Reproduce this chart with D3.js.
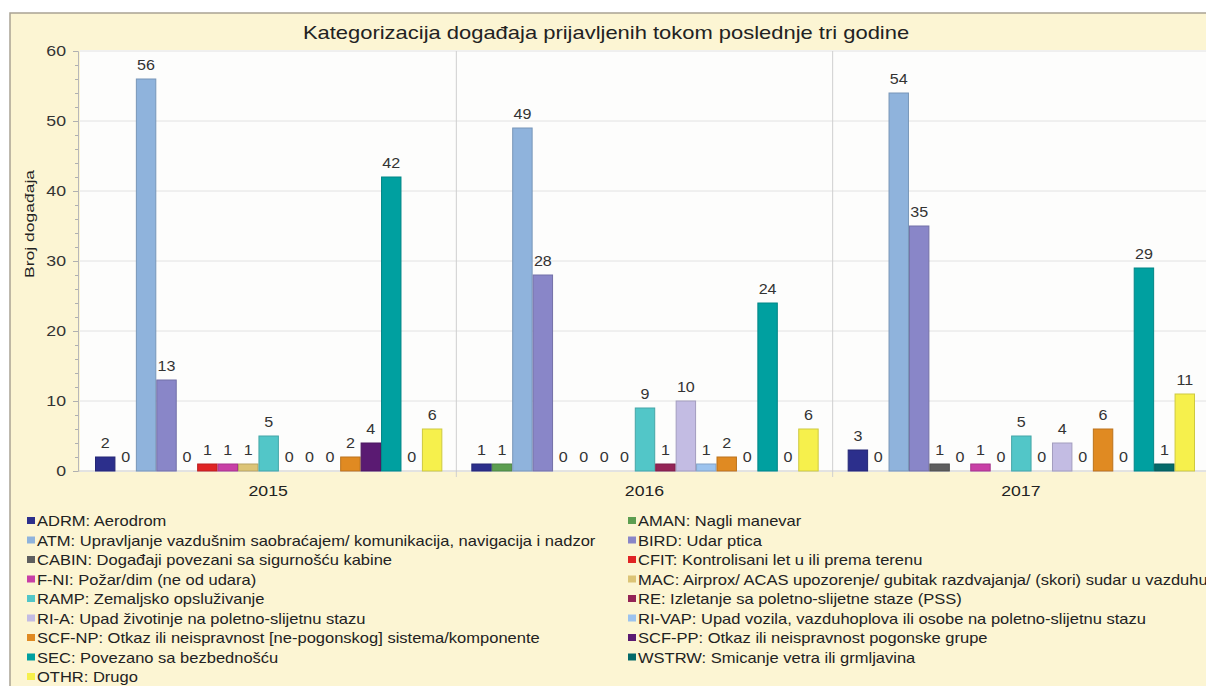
<!DOCTYPE html>
<html>
<head>
<meta charset="utf-8">
<script src="https://cdn.jsdelivr.net/npm/d3@7"></script>
<style>
  body { margin: 0; background: #fff; }
  svg { display: block; font-family: "Liberation Sans", Arial, sans-serif; }
</style>
</head>
<body>
<div id="chart"></div>
<script>
let years = ['2015', '2016', '2017']

let categories = ['ADRM', 'AMAN', 'ATM', 'BIRD', 'CABIN', 'CFIT', 'F-NI', 'MAC', 'RAMP',
  'RE', 'RI-A', 'RI-VAP', 'SCF-NP', 'SCF-PP', 'SEC', 'WSTRW', 'OTHR']

let descriptions = [
  'Aerodrom',
  'Nagli manevar',
  'Upravljanje vazdušnim saobraćajem/ komunikacija, navigacija i nadzor',
  'Udar ptica',
  'Događaji povezani sa sigurnošću kabine',
  'Kontrolisani let u ili prema terenu',
  'Požar/dim (ne od udara)',
  'Airprox/ ACAS upozorenje/ gubitak razdvajanja/ (skori) sudar u vazduhu',
  'Zemaljsko opsluživanje',
  'Izletanje sa poletno-slijetne staze (PSS)',
  'Upad životinje na poletno-slijetnu stazu',
  'Upad vozila, vazduhoplova ili osobe na poletno-slijetnu stazu',
  'Otkaz ili neispravnost [ne-pogonskog] sistema/komponente',
  'Otkaz ili neispravnost pogonske grupe',
  'Povezano sa bezbednošću',
  'Smicanje vetra ili grmljavina',
  'Drugo'
]

let values2015 = [2, 0, 56, 13, 0, 1, 1, 1, 5, 0, 0, 0, 2, 4, 42, 0, 6]
let values2016 = [1, 1, 49, 28, 0, 0, 0, 0, 9, 1, 10, 1, 2, 0, 24, 0, 6]
let values2017 = [3, 0, 54, 35, 1, 0, 1, 0, 5, 0, 4, 0, 6, 0, 29, 1, 11]

let colors = ['#2c2f8c', '#5c9e50', '#8fb3dc', '#8986c8', '#5e5e5e', '#e02424', '#c83fa6',
  '#dcc476', '#52c6c8', '#942456', '#c3bce3', '#9cc3ee', '#e08a22', '#5a1a72',
  '#00a0a0', '#046a6a', '#f6f04c']

let seriesByYear = { '2015': values2015, '2016': values2016, '2017': values2017 }

let width = 1206
let height = 686
let plot = { left: 80, right: 1209, top: 51, bottom: 471 }
// the source picture is a bit wider than tall, so text gets a horizontal stretch
let sx = 1.18

let svg = d3.select('#chart')
  .append('svg')
  .attr('width', width)
  .attr('height', height)

// frame
svg.append('rect')
  .attr('x', 10).attr('y', 13)
  .attr('width', width).attr('height', height)
  .attr('fill', '#fcf5d3')
  .attr('stroke', '#a9a394')
  .attr('stroke-width', 1.5)

svg.append('rect')
  .attr('x', plot.left).attr('y', plot.top - 1)
  .attr('width', plot.right - plot.left).attr('height', plot.bottom - plot.top + 2)
  .attr('fill', '#fdfdfc')

svg.append('text')
  .text('Kategorizacija događaja prijavljenih tokom poslednje tri godine')
  .attr('transform', `translate(606,39) scale(1.22,1)`)
  .attr('text-anchor', 'middle')
  .attr('font-size', 18)
  .attr('fill', '#222')

let y = d3.scaleLinear().domain([0, 60]).range([plot.bottom, plot.top])

let x0 = d3.scaleBand().domain(years).range([plot.left, plot.right]).padding(0)

let x1 = d3.scaleBand().domain(categories).range([15, x0.bandwidth() - 14]).padding(0)

let colorScale = d3.scaleOrdinal().domain(categories).range(colors)

// gridlines
svg.append('g')
  .selectAll('line')
  .data(d3.range(10, 61, 10))
  .enter()
  .append('line')
  .attr('x1', plot.left).attr('x2', plot.right)
  .attr('y1', d => y(d)).attr('y2', d => y(d))
  .attr('stroke', '#e2e2e2')

svg.append('g')
  .selectAll('line')
  .data(years.slice(1))
  .enter()
  .append('line')
  .attr('x1', d => x0(d)).attr('x2', d => x0(d))
  .attr('y1', plot.top).attr('y2', plot.bottom + 6)
  .attr('stroke', '#cfcfcf')

// baseline
svg.append('line')
  .attr('x1', plot.left - 2).attr('x2', plot.right)
  .attr('y1', plot.bottom).attr('y2', plot.bottom)
  .attr('stroke', '#c8c8c8')

// y axis
let minorAxis = d3.axisLeft(y).tickValues(d3.range(0, 61, 2)).tickSize(3).tickFormat('')
let majorAxis = d3.axisLeft(y).tickValues(d3.range(0, 61, 10)).tickSize(5).tickPadding(7)

svg.append('g')
  .attr('transform', `translate(${plot.left - 2},0)`)
  .call(minorAxis)
  .call(g => g.select('.domain').attr('stroke', '#b8b8b8'))
  .call(g => g.selectAll('.tick line').attr('stroke', '#b0b0b0'))

svg.append('g')
  .attr('transform', `translate(${plot.left - 2},0)`)
  .call(majorAxis)
  .call(g => g.select('.domain').remove())
  .call(g => g.selectAll('.tick line').attr('stroke', '#b0b0b0'))
  .call(g => g.selectAll('.tick text')
    .attr('x', -12 / sx)
    .attr('transform', `scale(${sx},1)`)
    .attr('font-size', 15)
    .attr('font-family', '"Liberation Sans", Arial, sans-serif')
    .attr('fill', '#333'))

svg.append('text')
  .text('Broj događaja')
  .attr('transform', 'translate(34,224) rotate(-90)')
  .attr('text-anchor', 'middle')
  .attr('font-size', 13.5)
  .attr('textLength', 108)
  .attr('lengthAdjust', 'spacingAndGlyphs')
  .attr('fill', '#222')

// x axis labels
svg.append('g')
  .attr('transform', `translate(0,${plot.bottom})`)
  .call(d3.axisBottom(x0).tickSize(0).tickPadding(14))
  .call(g => g.select('.domain').remove())
  .call(g => g.selectAll('.tick text')
    .attr('transform', `scale(${sx},1)`)
    .attr('font-size', 15)
    .attr('font-family', '"Liberation Sans", Arial, sans-serif')
    .attr('fill', '#222'))

// bars
let groups = svg.selectAll('.year-group')
  .data(years)
  .enter()
  .append('g')
  .attr('class', 'year-group')
  .attr('transform', d => `translate(${x0(d)},0)`)

groups.each(function(year) {
  let g = d3.select(this)
  let rows = categories.map((c, i) => ({ cat: c, value: seriesByYear[year][i] }))

  g.selectAll('rect')
    .data(rows.filter(d => d.value > 0))
    .enter()
    .append('rect')
    .attr('x', d => x1(d.cat) + 0.5)
    .attr('y', d => y(d.value))
    .attr('width', x1.bandwidth() - 1)
    .attr('height', d => y(0) - y(d.value))
    .attr('fill', d => colorScale(d.cat))
    .attr('stroke', d => d3.color(colorScale(d.cat)).darker(0.5))
    .attr('stroke-width', 1)

  g.selectAll('.label')
    .data(rows)
    .enter()
    .append('text')
    .attr('class', 'label')
    .text(d => d.value)
    .attr('transform', d => `translate(${x1(d.cat) + x1.bandwidth() / 2},${y(d.value) - 9}) scale(1.15,1)`)
    .attr('text-anchor', 'middle')
    .attr('font-size', 14)
    .attr('fill', '#333')
})

// legend
let legendItems = categories.map((c, i) => ({ cat: c, text: c + ': ' + descriptions[i], i: i }))

let legend = svg.append('g')
  .selectAll('g')
  .data(legendItems)
  .enter()
  .append('g')
  .attr('transform', d => {
    let col = d.i % 2
    let row = Math.floor(d.i / 2)
    return `translate(${col === 0 ? 27 : 628},${521 + row * 19.5})`
  })

legend.append('rect')
  .attr('x', 0).attr('y', -4)
  .attr('width', 8).attr('height', 7)
  .attr('fill', d => colorScale(d.cat))

legend.append('text')
  .text(d => d.text)
  .attr('transform', `translate(10,5) scale(${sx},1)`)
  .attr('font-size', 14)
  .attr('fill', '#222')
</script>
</body>
</html>
